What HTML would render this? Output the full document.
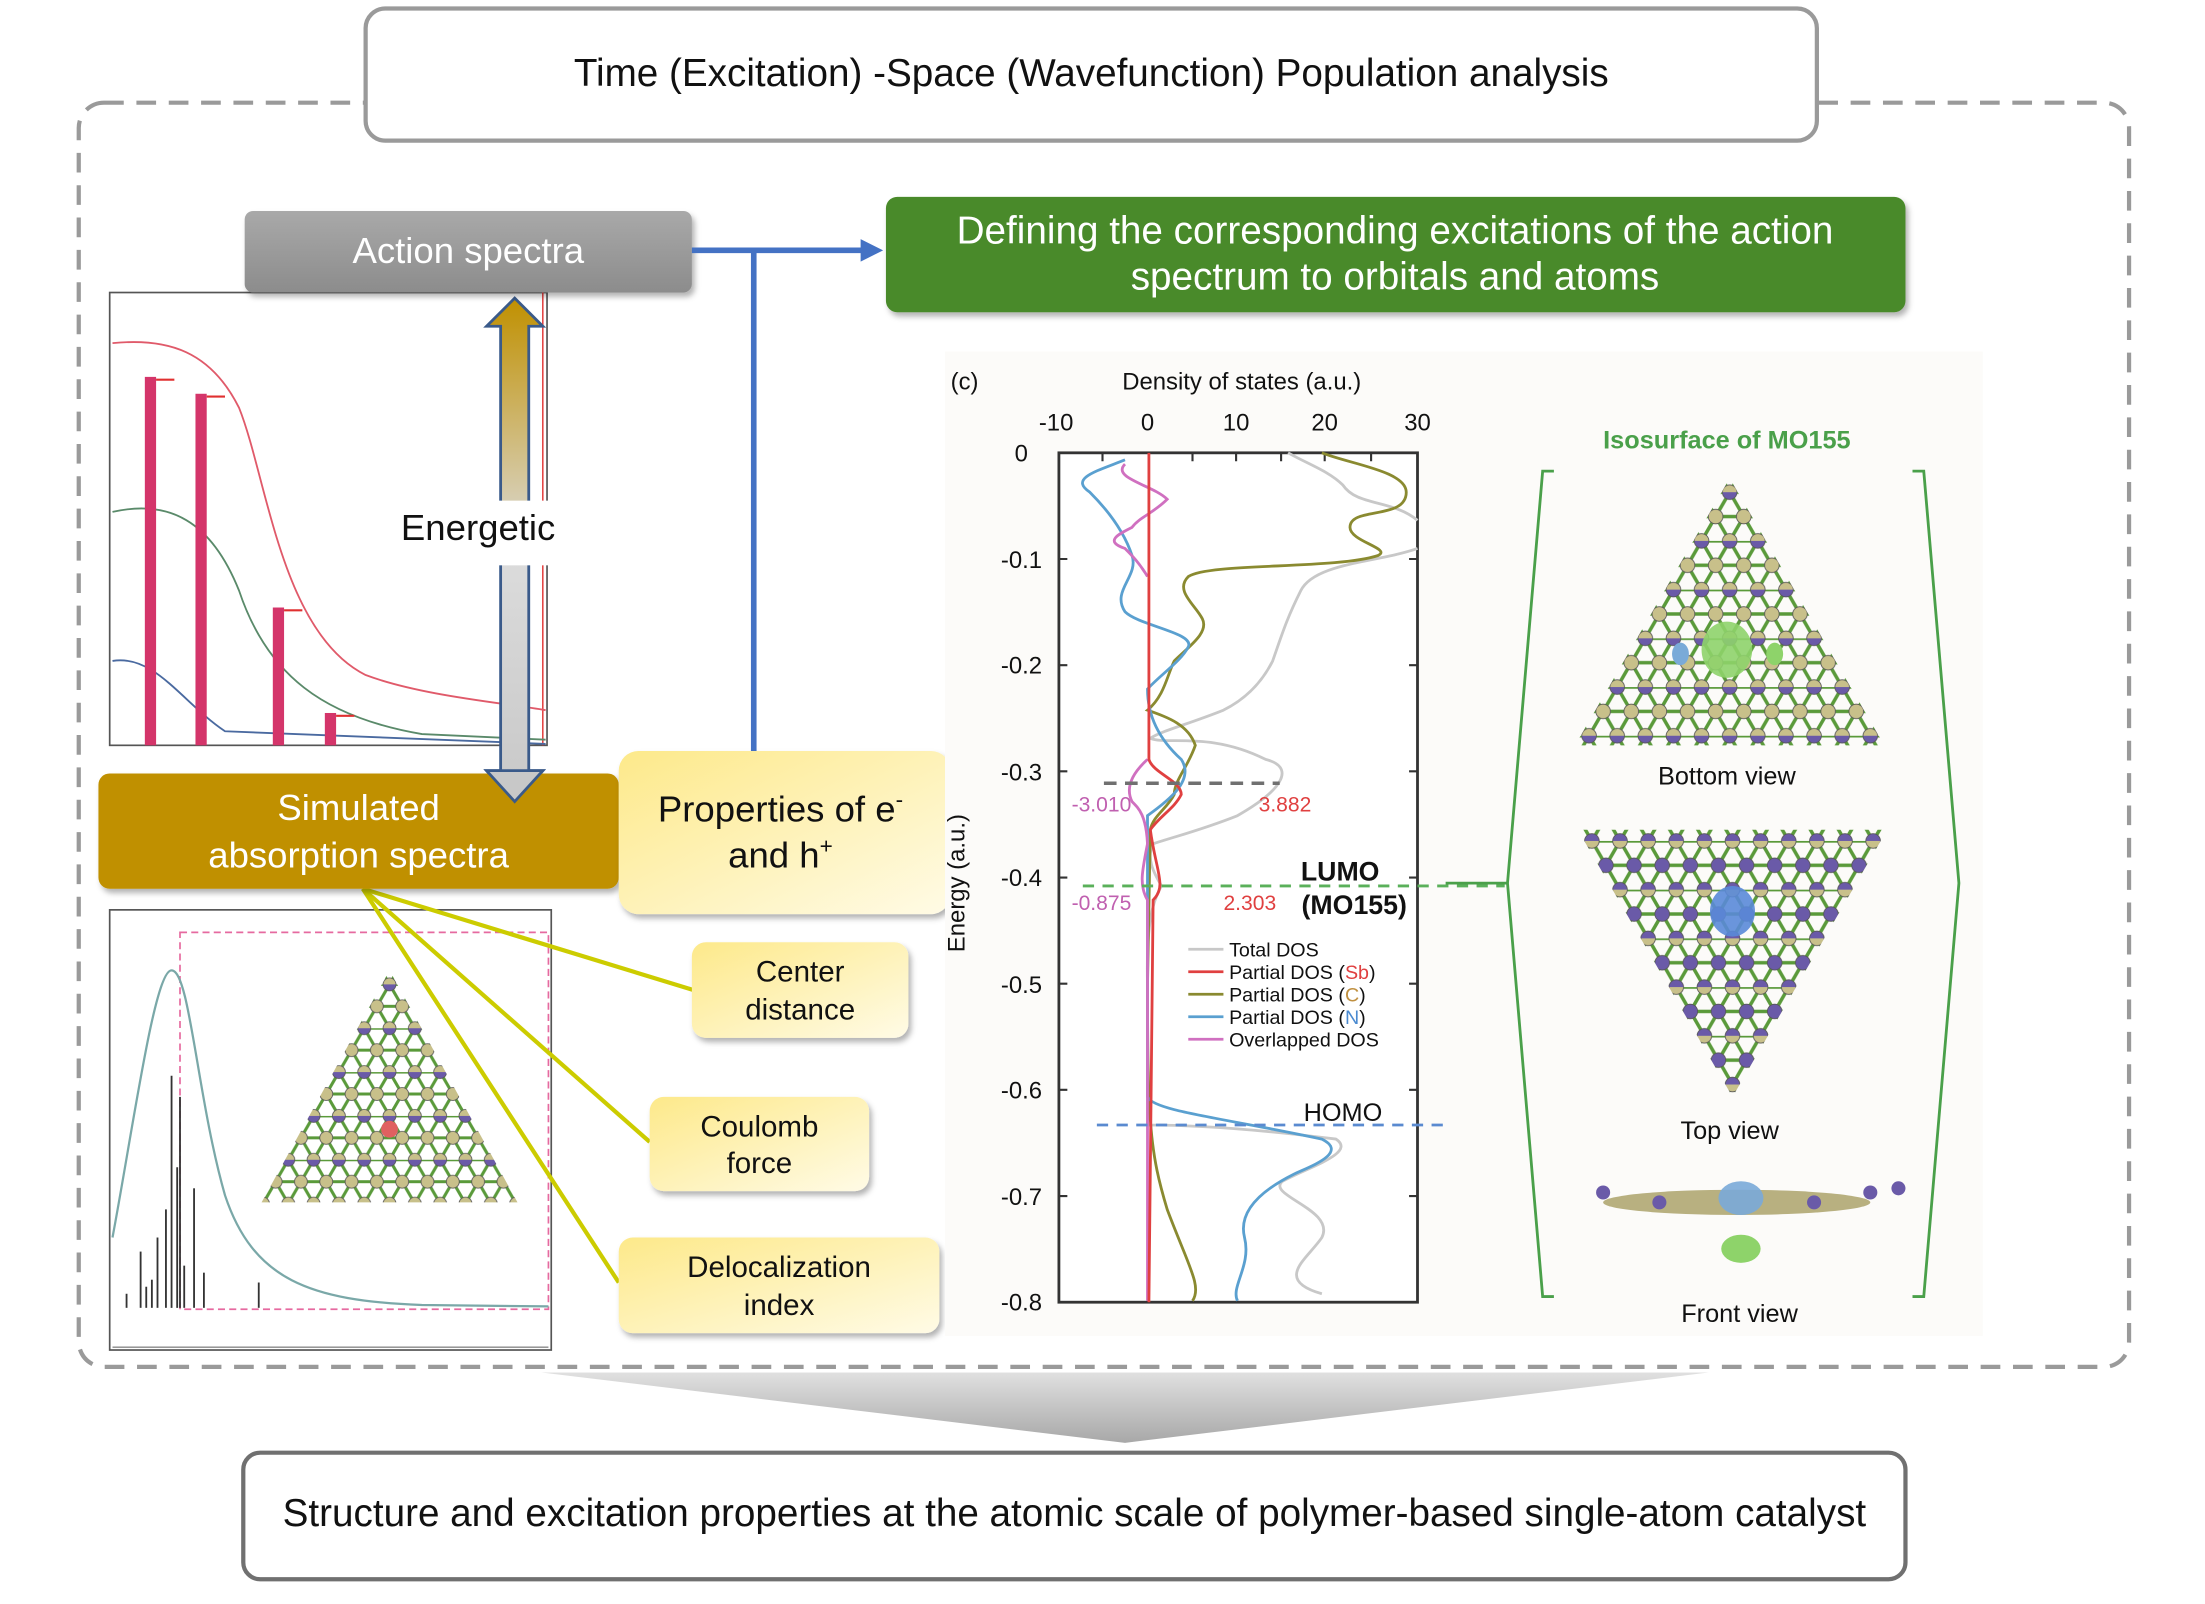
<!DOCTYPE html>
<html><head><meta charset="utf-8">
<style>
html,body{margin:0;padding:0;background:#fff;}
svg{display:block;font-family:"Liberation Sans",Arial,sans-serif;}
</style></head>
<body>
<svg xmlns="http://www.w3.org/2000/svg" width="2205" height="1604" viewBox="0 0 1568 1140.6">
<defs>
<linearGradient id="gy" x1="0" y1="0" x2="0" y2="1"><stop offset="0" stop-color="#a9a9a9"/><stop offset="1" stop-color="#8c8c8c"/></linearGradient>
<linearGradient id="yl" x1="0" y1="0" x2="1" y2="1"><stop offset="0" stop-color="#fde98a"/><stop offset="1" stop-color="#fffbe6"/></linearGradient>
<linearGradient id="ar" x1="0" y1="0" x2="0" y2="1"><stop offset="0" stop-color="#c09000"/><stop offset="0.5" stop-color="#dcdcdc"/><stop offset="1" stop-color="#c8c8c8"/></linearGradient>
<linearGradient id="fn" x1="0" y1="0" x2="0" y2="1"><stop offset="0" stop-color="#e0e0e0"/><stop offset="1" stop-color="#a8a8a8"/></linearGradient>
<filter id="sh" x="-10%" y="-10%" width="130%" height="140%"><feDropShadow dx="2" dy="3" stdDeviation="2" flood-color="#000" flood-opacity="0.3"/></filter>
<pattern id="p1" patternUnits="userSpaceOnUse" x="10" y="350" width="20" height="34.64">
 <g stroke="#5a9a3a" stroke-width="2.5">
 <line x1="0" y1="0" x2="20" y2="0"/><line x1="0" y1="17.32" x2="20" y2="17.32"/>
 <line x1="0" y1="0" x2="10" y2="17.32"/><line x1="20" y1="0" x2="10" y2="17.32"/>
 <line x1="10" y1="17.32" x2="0" y2="34.64"/><line x1="10" y1="17.32" x2="20" y2="34.64"/></g>
 <g stroke="#555" stroke-width="0.6"><circle cx="0" cy="0" r="5.2" fill="#6a5aa8"/><circle cx="20" cy="0" r="5.2" fill="#6a5aa8"/><circle cx="0" cy="34.64" r="5.2" fill="#c8c08a"/><circle cx="20" cy="34.64" r="5.2" fill="#c8c08a"/><circle cx="10" cy="17.32" r="5.2" fill="#c8c08a"/></g>
</pattern>
<pattern id="p2" patternUnits="userSpaceOnUse" x="12" y="598" width="20" height="34.64">
 <g stroke="#5a9a3a" stroke-width="2.5">
 <line x1="0" y1="0" x2="20" y2="0"/><line x1="0" y1="17.32" x2="20" y2="17.32"/>
 <line x1="0" y1="0" x2="10" y2="17.32"/><line x1="20" y1="0" x2="10" y2="17.32"/>
 <line x1="10" y1="17.32" x2="0" y2="34.64"/><line x1="10" y1="17.32" x2="20" y2="34.64"/></g>
 <g stroke="#555" stroke-width="0.6"><circle cx="0" cy="0" r="5.2" fill="#c8c08a"/><circle cx="20" cy="0" r="5.2" fill="#c8c08a"/><circle cx="0" cy="34.64" r="5.2" fill="#6a5aa8"/><circle cx="20" cy="34.64" r="5.2" fill="#6a5aa8"/><circle cx="10" cy="17.32" r="5.2" fill="#6a5aa8"/></g>
</pattern>
<pattern id="p3" patternUnits="userSpaceOnUse" x="7" y="700" width="18" height="31.18">
 <g stroke="#5a9a3a" stroke-width="2.2">
 <line x1="0" y1="0" x2="18" y2="0"/><line x1="0" y1="15.59" x2="18" y2="15.59"/>
 <line x1="0" y1="0" x2="9" y2="15.59"/><line x1="18" y1="0" x2="9" y2="15.59"/>
 <line x1="9" y1="15.59" x2="0" y2="31.18"/><line x1="9" y1="15.59" x2="18" y2="31.18"/></g>
 <g stroke="#555" stroke-width="0.6"><circle cx="0" cy="0" r="4.6" fill="#6a5aa8"/><circle cx="18" cy="0" r="4.6" fill="#6a5aa8"/><circle cx="0" cy="31.18" r="4.6" fill="#c8c08a"/><circle cx="18" cy="31.18" r="4.6" fill="#c8c08a"/><circle cx="9" cy="15.59" r="4.6" fill="#c8c08a"/></g>
</pattern>
</defs>

<rect x="56" y="73" width="1458" height="899" rx="18" fill="none" stroke="#9a9a9a" stroke-width="3" stroke-dasharray="14,9"/>
<rect x="260" y="6" width="1032" height="94" rx="14" fill="#fff" stroke="#9a9a9a" stroke-width="3"/>
<text x="776" y="61" font-size="27.5" text-anchor="middle" fill="#111">Time (Excitation) -Space (Wavefunction) Population analysis</text>

<polygon points="385,976 1215,976 800,1026" fill="url(#fn)"/>
<rect x="173" y="1033" width="1182" height="90" rx="12" fill="#fff" stroke="#707070" stroke-width="3"/>
<text x="764" y="1085" font-size="27.5" text-anchor="middle" fill="#111">Structure and excitation properties at the atomic scale of polymer-based single-atom catalyst</text>

<!-- top-left chart -->
<rect x="78" y="208" width="311" height="322" fill="#fff" stroke="#555" stroke-width="1.2"/>
<line x1="386" y1="208" x2="386" y2="530" stroke="#e03030" stroke-width="1"/>
<path d="M80,244 C120,240 150,250 170,290 C190,340 200,450 260,480 C300,495 360,500 388,505" fill="none" stroke="#e05a6a" stroke-width="1.3"/>
<path d="M80,364 C120,355 150,370 170,420 C190,480 230,510 300,522 L388,526" fill="none" stroke="#5a8a6a" stroke-width="1.3"/>
<path d="M80,470 C110,465 130,500 160,520 L388,529" fill="none" stroke="#4a6aa0" stroke-width="1.3"/>
<g fill="#d4356a"><rect x="103" y="268" width="8" height="262"/><rect x="139" y="280" width="8" height="250"/><rect x="194" y="432" width="8" height="98"/><rect x="231" y="507" width="8" height="23"/></g>
<g stroke="#e03030" stroke-width="1.5"><line x1="111" y1="270" x2="124" y2="270"/><line x1="147" y1="282" x2="160" y2="282"/><line x1="202" y1="434" x2="215" y2="434"/><line x1="239" y1="509" x2="252" y2="509"/></g>

<polygon points="366,212 386,232 376,232 376,548 386,548 366,570 346,548 356,548 356,232 346,232" fill="url(#ar)" stroke="#3a5a8a" stroke-width="2"/>
<rect x="278" y="356" width="124" height="46" fill="#fff"/>
<text x="340" y="384" font-size="26" text-anchor="middle" fill="#111">Energetic</text>

<rect x="174" y="150" width="318" height="58" rx="6" fill="url(#gy)" filter="url(#sh)"/>
<text x="333" y="187" font-size="26" text-anchor="middle" fill="#fff">Action spectra</text>

<polyline points="492,178 615,178" fill="none" stroke="#4472c4" stroke-width="4"/>
<polygon points="612,170 628,178 612,186" fill="#4472c4"/>
<line x1="536" y1="178" x2="536" y2="534" stroke="#4472c4" stroke-width="4"/>

<rect x="630" y="140" width="725" height="82" rx="8" fill="#4a8a2a" filter="url(#sh)"/>
<text x="992" y="173" font-size="27.5" text-anchor="middle" fill="#fff">Defining the corresponding excitations of the action</text>
<text x="992" y="206" font-size="27.5" text-anchor="middle" fill="#fff">spectrum to orbitals and atoms</text>

<!-- bottom-left chart -->
<rect x="78" y="647" width="314" height="313" fill="#fff" stroke="#555" stroke-width="1.2"/>
<rect x="128" y="663" width="262" height="268" fill="none" stroke="#e66aa0" stroke-width="1.2" stroke-dasharray="5,3"/>
<g stroke="#333" stroke-width="1.3">
<line x1="100" y1="930" x2="100" y2="890"/><line x1="104" y1="930" x2="104" y2="915"/><line x1="112" y1="930" x2="112" y2="880"/><line x1="118" y1="930" x2="118" y2="860"/><line x1="122" y1="930" x2="122" y2="765"/><line x1="126" y1="930" x2="126" y2="830"/><line x1="128" y1="930" x2="128" y2="780"/><line x1="131" y1="930" x2="131" y2="900"/><line x1="138" y1="930" x2="138" y2="845"/><line x1="145" y1="930" x2="145" y2="905"/><line x1="184" y1="930" x2="184" y2="912"/><line x1="90" y1="930" x2="90" y2="920"/><line x1="108" y1="930" x2="108" y2="910"/>
</g>
<path d="M80,880 C95,800 110,690 122,690 C135,690 140,780 160,850 C180,910 220,925 300,928 L390,929" fill="none" stroke="#7aa8a8" stroke-width="1.6"/>
<line x1="80" y1="958" x2="390" y2="958" stroke="#888"/>
<polygon points="277,690 186,855 368,855" fill="url(#p3)"/>
<circle cx="277" cy="803" r="6" fill="#e06060"/>

<g stroke="#cccc00" stroke-width="3" fill="none">
<line x1="258" y1="632" x2="493" y2="704"/>
<line x1="258" y1="632" x2="462" y2="812"/>
<line x1="258" y1="632" x2="440" y2="912"/>
</g>

<rect x="70" y="550" width="370" height="82" rx="8" fill="#c09000" filter="url(#sh)"/>
<text x="255" y="583" font-size="26" text-anchor="middle" fill="#fff">Simulated</text>
<text x="255" y="617" font-size="26" text-anchor="middle" fill="#fff">absorption spectra</text>
<polygon points="366,548 386,548 366,570 346,548" fill="#c8c8c8" stroke="#3a5a8a" stroke-width="2"/>

<rect x="440" y="534" width="236" height="116" rx="14" fill="url(#yl)" filter="url(#sh)"/>
<text x="555" y="584" font-size="26" text-anchor="middle" fill="#111">Properties of e<tspan font-size="16" dy="-10">-</tspan></text>
<text x="555" y="617" font-size="26" text-anchor="middle" fill="#111">and h<tspan font-size="16" dy="-10">+</tspan></text>

<rect x="492" y="670" width="154" height="68" rx="10" fill="url(#yl)" filter="url(#sh)"/>
<text x="569" y="698" font-size="21" text-anchor="middle" fill="#111">Center</text>
<text x="569" y="725" font-size="21" text-anchor="middle" fill="#111">distance</text>
<rect x="462" y="780" width="156" height="67" rx="10" fill="url(#yl)" filter="url(#sh)"/>
<text x="540" y="808" font-size="21" text-anchor="middle" fill="#111">Coulomb</text>
<text x="540" y="834" font-size="21" text-anchor="middle" fill="#111">force</text>
<rect x="440" y="880" width="228" height="68" rx="10" fill="url(#yl)" filter="url(#sh)"/>
<text x="554" y="908" font-size="21" text-anchor="middle" fill="#111">Delocalization</text>
<text x="554" y="935" font-size="21" text-anchor="middle" fill="#111">index</text>

<!-- DOS panel -->
<rect x="672" y="250" width="738" height="700" fill="#fcfbf9"/>
<text x="676" y="277" font-size="17" fill="#111">(c)</text>
<text x="883" y="277" font-size="17" text-anchor="middle" fill="#111">Density of states (a.u.)</text>
<g font-size="17" text-anchor="middle" fill="#111">
<text x="751" y="306">-10</text><text x="816" y="306">0</text><text x="879" y="306">10</text><text x="942" y="306">20</text><text x="1008" y="306">30</text>
</g>
<g font-size="17" text-anchor="end" fill="#111">
<text x="731" y="328">0</text><text x="741" y="404">-0.1</text><text x="741" y="479">-0.2</text><text x="741" y="555">-0.3</text><text x="741" y="630">-0.4</text><text x="741" y="706">-0.5</text><text x="741" y="781">-0.6</text><text x="741" y="857">-0.7</text><text x="741" y="932">-0.8</text>
</g>
<text transform="translate(686,628) rotate(-90)" font-size="17" text-anchor="middle" fill="#111">Energy (a.u.)</text>
<rect x="753" y="322" width="255" height="604" fill="#fff" stroke="#333" stroke-width="2"/>
<g stroke="#333" stroke-width="1.5">
<path d="M753,397.5h6M753,473h6M753,548.5h6M753,624h6M753,699.5h6M753,775h6M753,850.5h6M1002,397.5h6M1002,473h6M1002,548.5h6M1002,624h6M1002,699.5h6M1002,775h6M1002,850.5h6M784,322v6M848,322v6M879,322v6M911,322v6M942,322v6M975,322v6"/>
</g>
<path d="M916,322 C930,330 945,335 955,345 C965,360 990,355 1008,370 M1008,390 C980,400 935,400 925,420 C915,440 912,450 905,470 C895,490 880,500 870,505 C845,515 825,520 818,525 C830,530 860,520 900,540 C920,545 915,560 880,580 C855,590 835,595 820,600 C815,610 820,620 826,630 C820,640 815,655 816,700 L816,800 C830,800 870,800 950,810 C965,820 930,830 912,840 C900,850 950,860 940,880 C930,895 905,910 940,920" fill="none" stroke="#c8c8c8" stroke-width="2"/>
<path d="M940,322 C960,330 1000,335 1000,350 C1000,370 960,360 960,375 C960,385 990,390 980,395 C950,405 860,400 845,410 C835,420 850,430 855,440 C860,450 845,460 835,470 C830,480 828,495 816,505 C830,510 845,515 850,530 C845,545 835,555 835,565 C830,575 820,580 818,590 L816,700 C816,800 818,820 830,860 C845,900 855,915 848,925" fill="none" stroke="#8a8a30" stroke-width="2"/>
<path d="M800,327 C780,335 760,340 775,350 C790,365 800,380 805,395 C810,410 790,420 800,435 C810,445 850,450 845,460 C840,470 825,480 816,490 C816,500 818,520 840,540 C850,555 830,570 816,580 L816,780 C820,790 870,795 940,810 C960,820 930,830 920,835 C900,845 880,860 885,880 C890,900 875,915 880,925" fill="none" stroke="#5aa0d0" stroke-width="2"/>
<path d="M800,330 C790,340 820,345 830,355 C820,365 810,368 805,375 C795,380 785,385 800,390 C805,395 810,400 816,410 M816,540 C805,550 800,560 805,570 C810,575 815,580 816,600 C812,620 810,630 816,640 L816,925" fill="none" stroke="#d070c0" stroke-width="2"/>
<path d="M817,322 L817,540 C820,550 840,555 840,565 C835,575 825,580 818,590 C822,620 830,630 820,640 L817,926" fill="none" stroke="#e04040" stroke-width="2"/>
<line x1="785" y1="557" x2="910" y2="557" stroke="#707070" stroke-width="2.5" stroke-dasharray="9,6"/>
<line x1="770" y1="630" x2="1070" y2="630" stroke="#5ab05a" stroke-width="2" stroke-dasharray="8,6"/>
<line x1="780" y1="800" x2="1030" y2="800" stroke="#5a8ad0" stroke-width="2" stroke-dasharray="8,6"/>
<text x="762" y="577" font-size="15" fill="#c060b0">-3.010</text>
<text x="895" y="577" font-size="15" fill="#e04040">3.882</text>
<text x="762" y="647" font-size="15" fill="#c060b0">-0.875</text>
<text x="870" y="647" font-size="15" fill="#e04040">2.303</text>
<text x="953" y="626" font-size="19" font-weight="bold" text-anchor="middle" fill="#111">LUMO</text>
<text x="963" y="650" font-size="19" font-weight="bold" text-anchor="middle" fill="#111">(MO155)</text>
<text x="955" y="797" font-size="18" text-anchor="middle" fill="#111">HOMO</text>
<g font-size="14" fill="#111">
<line x1="845" y1="675" x2="870" y2="675" stroke="#c8c8c8" stroke-width="2"/><text x="874" y="680">Total DOS</text>
<line x1="845" y1="691" x2="870" y2="691" stroke="#e04040" stroke-width="2"/><text x="874" y="696">Partial DOS (<tspan fill="#e04040">Sb</tspan>)</text>
<line x1="845" y1="707" x2="870" y2="707" stroke="#8a8a30" stroke-width="2"/><text x="874" y="712">Partial DOS (<tspan fill="#c09040">C</tspan>)</text>
<line x1="845" y1="723" x2="870" y2="723" stroke="#5aa0d0" stroke-width="2"/><text x="874" y="728">Partial DOS (<tspan fill="#4a8ad0">N</tspan>)</text>
<line x1="845" y1="739" x2="870" y2="739" stroke="#d070c0" stroke-width="2"/><text x="874" y="744">Overlapped DOS</text>
</g>

<!-- isosurface -->
<text x="1228" y="319" font-size="18" font-weight="bold" text-anchor="middle" fill="#4aa04a">Isosurface of MO155</text>
<path d="M1105,335 L1097,335 L1072,628 L1097,922 L1105,922" fill="none" stroke="#4aa04a" stroke-width="2"/>
<path d="M1360,335 L1368,335 L1393,628 L1368,922 L1360,922" fill="none" stroke="#4aa04a" stroke-width="2"/>
<line x1="1028" y1="628" x2="1072" y2="628" stroke="#4aa04a" stroke-width="2"/>
<polygon points="1230,340 1120,530 1340,530" fill="url(#p1)"/>
<polygon points="1232,780 1122,590 1342,590" fill="url(#p2)"/>
<ellipse cx="1228" cy="462" rx="18" ry="20" fill="#8ed36a" opacity="0.9"/>
<ellipse cx="1195" cy="465" rx="6" ry="8" fill="#7aaad8"/><ellipse cx="1262" cy="465" rx="6" ry="8" fill="#8ed36a"/>
<ellipse cx="1232" cy="648" rx="16" ry="18" fill="#5a8ad8" opacity="0.9"/>
<ellipse cx="1235" cy="855" rx="95" ry="9" fill="#b8b080"/>
<g fill="#6a5aa8"><circle cx="1140" cy="848" r="5"/><circle cx="1180" cy="855" r="5"/><circle cx="1290" cy="855" r="5"/><circle cx="1330" cy="848" r="5"/><circle cx="1350" cy="845" r="5"/></g>
<ellipse cx="1238" cy="888" rx="14" ry="10" fill="#8ed36a"/>
<ellipse cx="1238" cy="852" rx="16" ry="12" fill="#7aaad8" opacity="0.9"/>
<text x="1228" y="558" font-size="18" text-anchor="middle" fill="#111">Bottom view</text>
<text x="1230" y="810" font-size="18" text-anchor="middle" fill="#111">Top view</text>
<text x="1237" y="940" font-size="18" text-anchor="middle" fill="#111">Front view</text>
</svg>
</body></html>
